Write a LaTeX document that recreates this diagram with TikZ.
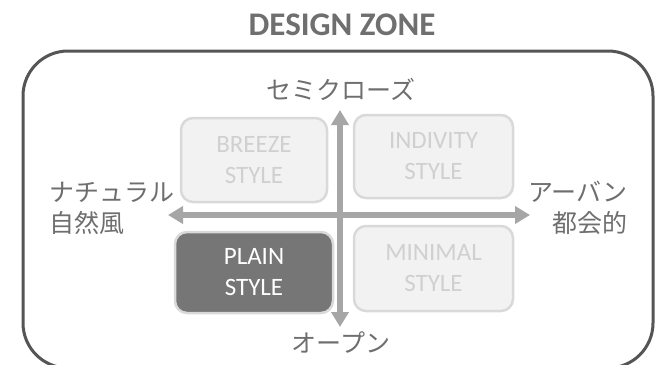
\documentclass[tikz,border=0pt]{standalone}
\usepackage{fontspec}
\setmainfont{Carlito}
\newfontfamily\jpfont{Noto Sans CJK JP}
\usetikzlibrary{arrows.meta}

\definecolor{framegray}{HTML}{555555}
\definecolor{titlegray}{HTML}{6F6F6F}
\definecolor{labelgray}{HTML}{6E6E6E}
\definecolor{axisgray}{HTML}{A6A6A6}
\definecolor{boxline}{HTML}{D9D9D9}
\definecolor{offfill}{HTML}{F2F2F2}
\definecolor{offtext}{HTML}{D0D0D0}
\definecolor{onfill}{HTML}{767676}

\begin{document}
\begin{tikzpicture}[x=1pt, y=-1pt,
    stylebox/.style={draw=boxline, line width=2.5pt, rounded corners=12pt, align=center,
      inner sep=0pt, font=\fontsize{25}{31}\selectfont},
    offbox/.style={stylebox, fill=offfill, text=offtext},
    onbox/.style={stylebox, fill=onfill, text=white},
    axis/.style={line width=6.5pt, draw=axisgray,
      {Triangle[width=17pt,length=15pt]}-{Triangle[width=17pt,length=15pt]}},
    axlabel/.style={text=labelgray, inner sep=0pt, font=\jpfont\fontsize{25}{31}\selectfont}]
  \useasboundingbox (0,0) rectangle (655,364);

  % 見出しと枠
  \node [text=titlegray, font=\bfseries\fontsize{33}{36}\selectfont] (zone) at (342,25) {DESIGN ZONE};
  \draw [framegray, line width=3pt, rounded corners=45pt] (23,51) rectangle (653,368);

  % 座標軸
  \coordinate (up) at (340,110);
  \coordinate (down) at (340,327);
  \coordinate (left) at (168,215);
  \coordinate (right) at (530,215);
  \draw [axis] (down) -- (up);
  \draw [axis] (left) -- (right);

  % 軸の説明
  \node [axlabel] (semiclose) at (341,89) {セミクローズ};
  \node [axlabel] (open) at (341,343) {オープン};
  \node [axlabel, anchor=west, align=left] (natural) at (49,208) {ナチュラル\\自然風};
  \node [axlabel, anchor=east, align=right] (urban) at (628,208) {アーバン\\都会的};

  % スタイル
  \node [offbox, minimum width=146pt, minimum height=84pt] (breeze) at (254,160) {BREEZE\\STYLE};
  \node [offbox, minimum width=159pt, minimum height=83pt] (indivity) at (433.5,156.5) {INDIVITY\\STYLE};
  \node [onbox, minimum width=158pt, minimum height=81pt] (plain) at (254,272.5) {PLAIN\\STYLE};
  \node [offbox, minimum width=159pt, minimum height=85pt] (minimal) at (433.5,268.5) {MINIMAL\\STYLE};
\end{tikzpicture}
\end{document}
